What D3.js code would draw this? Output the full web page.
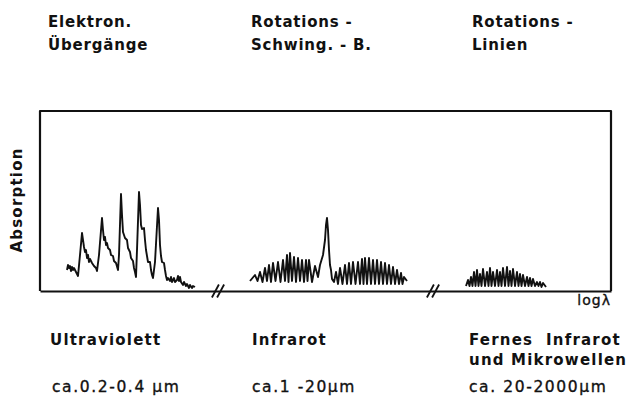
<!DOCTYPE html>
<html>
<head>
<meta charset="utf-8">
<script src="https://cdn.jsdelivr.net/npm/d3@7"></script>
<style>
  html, body { margin: 0; padding: 0; background: #fff; }
  svg text { font-family: "DejaVu Sans", sans-serif; font-weight: bold; fill: #111; }
  svg text.range { font-weight: normal; stroke: #111; stroke-width: 0.35px; }
</style>
</head>
<body>
<svg id="chart" width="640" height="399"></svg>
<script>
// Spectrum traces: [position along log λ (arb. units), absorption (arb. units)]
const uvSpectrum = [
  [5.4,10.5],[5.6,13],[5.8,11.5],[6,12.5],[6.2,10],[6.4,12],[6.6,10.5],[6.8,11.5],[7.2,9.5],[7.6,7.5],
  [8,18],[8.4,29],[8.8,22],[9,19.5],[9.2,20.5],[9.4,16.5],[9.6,18],[9.8,14.5],[10,16],[10.4,14],
  [10.8,12.5],[11.2,11.5],[11.4,10],[11.8,18],[12.4,36.5],[12.6,30.5],[12.8,25.5],[13,27],[13.2,23],
  [13.4,24],[13.6,21.5],[14,20.5],[14.2,18],[14.6,17.5],[14.8,15],[15.2,14],[15.6,10.5],[15.8,18],
  [16.2,48.5],[16.4,38],[16.6,29.5],[16.8,28],[17,26.5],[17.4,25.5],[17.6,21.5],[18,19.5],[18.2,16.5],
  [18.6,15],[18.8,11.5],[19,9.5],[19.2,7],[19.4,20.5],[19.8,49.5],[20,43],[20.2,33],[20.4,31],
  [20.8,31.5],[21,25.5],[21.2,20.5],[21.4,17.5],[21.6,14.5],[22,14.5],[22.2,10.5],[22.4,8],[22.6,6.5],
  [23,14.5],[23.6,41.5],[23.8,35.5],[24,23],[24.2,17.5],[24.4,14.5],[24.8,14],[25,10.5],[25.2,7.5],
  [25.4,5.5],[25.6,6.5],[26,5],[26.2,7],[26.4,4.5],[26.8,6.5],[27,4.5],[27.4,5.5],[27.6,7.5],[27.8,5],
  [28,7],[28.2,4.5],[28.6,3],[28.8,4.5],[29.2,2.5],[29.4,3.5],[29.8,1.5],[30,3],[30.4,1.5],[30.6,2.5],[31,2]
];

const irSpectrum = [
  [42,5],[43,8],[43.5,5],[44,9.5],[44.5,4.5],[45,11.5],[45.4,5],[45.8,13],[46.2,4.5],[46.6,14],
  [47.1,5],[47.6,14.5],[48.1,4.5],[48.6,15.5],[49,5],[49.4,18],[49.7,4.5],[50,19],[50.4,5],[50.8,17],
  [51.2,4.5],[51.6,16.5],[52,5],[52.4,15.5],[52.8,4.5],[53.2,15.5],[53.5,5],[53.8,15.5],[54.4,4.5],
  [55,12.5],[55.6,7],[56,13],[56.6,18],[57,25.5],[57.2,33],[57.4,36.5],[57.6,30.5],[57.8,20.5],
  [58,13],[58.2,10.5],[58.4,6],[58.8,4.5],
  [59.2,9.5],[59.6,3.5],[60,11.5],[60.5,3.5],[61,13],[61.4,3.5],[61.8,14],[62.2,3.5],[62.6,14.5],
  [63.1,3.5],[63.6,14.5],[64,3.5],[64.4,16],[64.7,3.5],[65,16.5],[65.4,3.5],[65.8,16.5],[66.2,3.5],
  [66.6,15.5],[67,3.5],[67.4,15.5],[67.8,3.5],[68.2,14.5],[68.6,3.5],[69,14],[69.4,3.5],[69.8,13],
  [70.2,3.5],[70.6,12],[71,3.5],[71.4,10.5],[71.8,3.5],[72.2,9],[72.5,3.5],[72.8,7],[73.4,5]
];

const farIrSpectrum = [
  [85.2,2.5],[85.6,5.5],[85.9,2.5],[86.2,7],[86.5,2.5],[86.8,9.5],[87.1,2.5],[87.4,10.5],[87.7,2.5],
  [88,8.5],[88.3,2.5],[88.6,11],[89,2.5],[89.4,9.5],[89.7,2.5],[90,11.5],[90.3,2.5],[90.6,9.5],
  [91,2.5],[91.4,10.5],[91.7,2.5],[92,9.5],[92.3,2.5],[92.6,11.5],[93,2.5],[93.4,12],[93.7,2.5],
  [94,10],[94.3,2.5],[94.6,11],[95,2.5],[95.4,9.5],[95.7,2.5],[96,8.5],[96.3,2.5],[96.6,8],
  [97,2.5],[97.4,7],[97.7,2.5],[98,6.5],[98.3,2.5],[98.6,6],[99,2.5],[99.4,4.5],[99.7,2.5],
  [100,4.5],[100.3,2],[100.6,4],[101.2,2]
];

// Axis breaks on the log λ axis
const axisBreaks = [35.6, 78.6];

// Text blocks
const bandTitles = [
  { x: 1.6,  lines: ["Elektron.", "Übergänge"] },
  { x: 42.2, lines: ["Rotations -", "Schwing. - B."] },
  { x: 86.4, lines: ["Rotations -", "Linien"] }
];
const regionNames = [
  { x: 2,    lines: ["Ultraviolett"] },
  { x: 42.4, lines: ["Infrarot"] },
  { x: 85.8, lines: ["Fernes  Infrarot", "und Mikrowellen"] }
];
const wavelengthRanges = [
  { x: 2.4,  text: "ca.0.2-0.4 µm" },
  { x: 42.4, text: "ca.1 -20µm" },
  { x: 85.8, text: "ca. 20-2000µm" }
];
const yLabel = "Absorption";
const xLabel = "logλ";

const svg = d3.select("#chart");
const plotL = 40, plotR = 611, plotT = 111, plotB = 291;

const x = d3.scaleLinear().domain([0, 114.2]).range([plotL, plotR]);
const y = d3.scaleLinear().domain([0, 90]).range([plotB, plotT]);

// Frame: left, top and right edges
svg.append("path")
  .attr("d", d3.line()([[plotL, plotB], [plotL, plotT], [plotR, plotT], [plotR, plotB]]))
  .attr("fill", "none").attr("stroke", "#111").attr("stroke-width", 2.2)
  .attr("stroke-linejoin", "round");

// Bottom axis line (log λ)
const xAxis = d3.axisBottom(x).tickValues([]).tickSizeOuter(0);
const gx = svg.append("g").attr("transform", `translate(0,${plotB})`).call(xAxis);
gx.select(".domain").attr("stroke", "#111").attr("stroke-width", 2.2);

// Break marks "//"
axisBreaks.forEach(b => {
  [-2.6, 2.6].forEach(off => {
    const cx = x(b) + off;
    svg.append("line")
      .attr("x1", cx - 3.5).attr("y1", plotB + 6.5)
      .attr("x2", cx + 3.5).attr("y2", plotB - 6.5)
      .attr("stroke", "#111").attr("stroke-width", 1.8);
  });
});

// Spectrum traces
const line = d3.line().x(d => x(d[0])).y(d => y(d[1]));
[uvSpectrum, irSpectrum, farIrSpectrum].forEach(s => {
  svg.append("path").datum(s).attr("d", line)
    .attr("fill", "none").attr("stroke", "#111").attr("stroke-width", 1.9)
    .attr("stroke-linejoin", "round");
});

// Band titles above the plot
bandTitles.forEach(t => {
  t.lines.forEach((l, i) => {
    svg.append("text").attr("x", x(t.x)).attr("y", 27 + i * 23)
      .attr("font-size", 15).attr("letter-spacing", 0.8).text(l);
  });
});

// Region names below the axis
regionNames.forEach(t => {
  t.lines.forEach((l, i) => {
    svg.append("text").attr("x", x(t.x)).attr("y", 345 + i * 20)
      .attr("font-size", 15).attr("letter-spacing", 1.2)
      .attr("xml:space", "preserve").style("white-space", "pre").text(l);
  });
});

// Wavelength ranges
wavelengthRanges.forEach(t => {
  svg.append("text").attr("class", "range").attr("x", x(t.x)).attr("y", 392)
    .attr("font-size", 15.5).attr("letter-spacing", 1.6).text(t.text);
});

// Axis titles
svg.append("text")
  .attr("transform", `translate(22,${(plotT + plotB) / 2 - 1}) rotate(-90)`)
  .attr("text-anchor", "middle").attr("font-size", 15).attr("letter-spacing", 1.2)
  .text(yLabel);

svg.append("text").attr("class", "range").attr("x", plotR).attr("y", 305).attr("text-anchor", "end")
  .attr("font-size", 14).attr("letter-spacing", 1).text(xLabel);
</script>
</body>
</html>
